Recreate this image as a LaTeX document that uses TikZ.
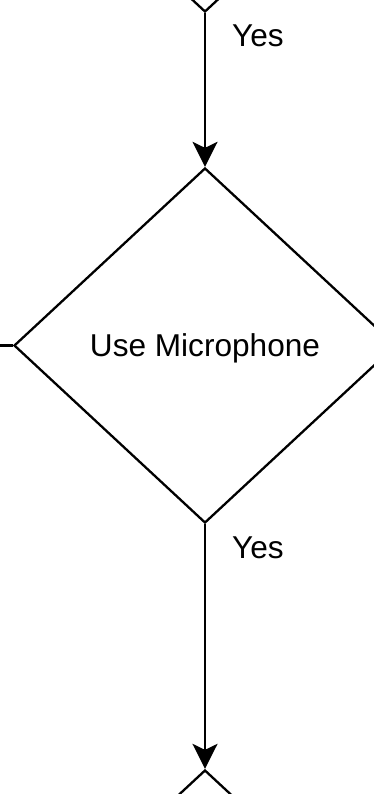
\documentclass[tikz,border=0pt]{standalone}
\usepackage{fontspec}
\setmainfont{Liberation Sans}
\usetikzlibrary{shapes.geometric,arrows.meta}

\tikzset{
    decision/.style={draw, shape=diamond, line width=2.3pt, inner sep=0pt,
        minimum width=382pt, minimum height=355pt, aspect=1.076,
        text height=21pt, text depth=0pt},
    flow/.style={line width=2.3pt, -{Stealth[length=25pt,width=25pt,inset=6pt]}}
}

\begin{document}
\begin{tikzpicture}[x=1pt,y=-1pt,font=\fontsize{31.6}{37}\selectfont]
\useasboundingbox (0,0) rectangle (374,794);
\clip (0,0) rectangle (374,794);
    \node[decision] (prev) at (205,-165.5) { };
    \node[decision] (mic) at (205,345.5) {Use Microphone};
    \node[decision] (next) at (205,947.5) { };

    \node[anchor=base west,inner sep=0pt] (yes1) at (232,47) {Yes};
    \node[anchor=base west,inner sep=0pt] (yes2) at (232,558) {Yes};

    \coordinate (left) at (-20,345.5);

    \draw[flow] (prev.south) -- (mic.north);
    \draw[flow] (mic.south) -- (next.north);
    \draw[line width=2.3pt] (mic.west) -- (left);
\end{tikzpicture}
\end{document}
